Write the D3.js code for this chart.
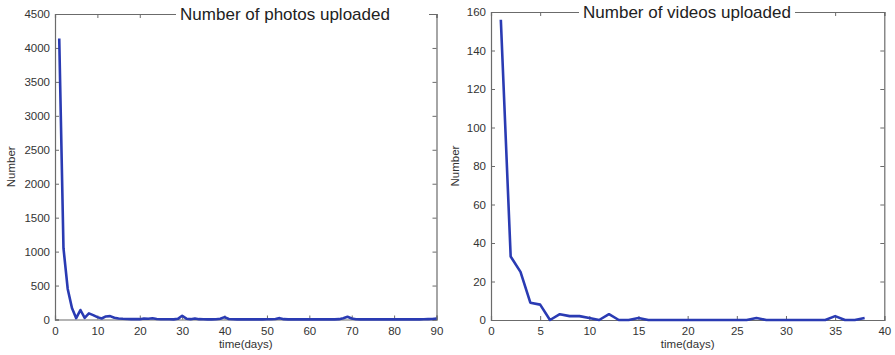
<!DOCTYPE html>
<html>
<head>
<meta charset="utf-8">
<script src="https://cdn.jsdelivr.net/npm/d3@7"></script>
<style>
  html, body { margin: 0; padding: 0; background: #fff; }
  svg { display: block; }
  text { font-family: "Liberation Sans", Arial, sans-serif; }
</style>
</head>
<body>
<svg id="chart" width="895" height="355"></svg>
<script>
// Daily upload counts
const photoDays = d3.range(1, 91);
const photoCounts = [
  4140, 1050, 450, 170, 20, 140, 25, 90, 65, 35,
  15, 45, 50, 25, 15, 10, 8, 5, 5, 5,
  15, 12, 18, 8, 4, 3, 3, 2, 10, 55,
  12, 5, 15, 5, 3, 2, 2, 3, 10, 35,
  8, 3, 2, 2, 2, 2, 2, 2, 2, 3,
  3, 8, 20, 5, 2, 2, 2, 2, 2, 2,
  2, 2, 2, 2, 2, 2, 5, 20, 40, 15,
  3, 2, 2, 2, 2, 2, 2, 2, 2, 2,
  2, 2, 2, 2, 2, 2, 3, 5, 8, 15
];

const videoDays = d3.range(1, 39);
const videoCounts = [
  156, 33, 25, 9, 8, 0, 3, 2, 2, 1,
  0, 3, 0, 0, 1, 0, 0, 0, 0, 0,
  0, 0, 0, 0, 0, 0, 1, 0, 0, 0,
  0, 0, 0, 0, 2, 0, 0, 1
];

const photoXTicks = d3.range(0, 91, 10);
const photoYTicks = d3.range(0, 4501, 500);
const videoXTicks = d3.range(0, 41, 5);
const videoYTicks = d3.range(0, 161, 20);

const svg = d3.select("#chart");
const lineColor = "#2a3bb3";
const boxColor = "#6b6b6b";
const textColor = "#333";

function panel(opts) {
  const { left, right, top, bottom, xDomain, yDomain, xTicks, yTicks,
          xs, ys, title, titleX, titleBg, yLabelX } = opts;
  const x = d3.scaleLinear().domain(xDomain).range([left, right]);
  const y = d3.scaleLinear().domain(yDomain).range([bottom, top]);
  const g = svg.append("g");
  const tickLen = 4;

  // bottom axis with inward ticks
  const bx = g.append("g").attr("transform", `translate(0,${bottom})`)
    .call(d3.axisBottom(x).tickValues(xTicks).tickSize(-tickLen).tickPadding(7).tickFormat(d3.format("d")));
  // top mirror ticks
  const tx = g.append("g").attr("transform", `translate(0,${top})`)
    .call(d3.axisTop(x).tickValues(xTicks).tickSize(-tickLen).tickFormat(""));
  // left axis
  const ly = g.append("g").attr("transform", `translate(${left},0)`)
    .call(d3.axisLeft(y).tickValues(yTicks).tickSize(-tickLen).tickPadding(5).tickFormat(d3.format("d")));
  // right mirror ticks
  const ry = g.append("g").attr("transform", `translate(${right},0)`)
    .call(d3.axisRight(y).tickValues(yTicks).tickSize(-tickLen).tickFormat(""));

  [bx, tx, ly, ry].forEach(a => {
    a.select(".domain").attr("stroke", boxColor).attr("stroke-width", 1.2);
    a.selectAll(".tick line").attr("stroke", boxColor).attr("stroke-width", 1);
    a.selectAll(".tick text").attr("fill", textColor)
      .style("font-size", "11.5px");
  });

  // data line
  const line = d3.line().x((d, i) => x(xs[i])).y(d => y(d));
  g.append("path").datum(ys)
    .attr("fill", "none")
    .attr("stroke", lineColor)
    .attr("stroke-width", 2.6)
    .attr("stroke-linejoin", "round")
    .attr("d", line);

  // title sits on the top border with a white backing
  g.append("rect")
    .attr("x", titleBg[0]).attr("y", top - 10)
    .attr("width", titleBg[1] - titleBg[0]).attr("height", 20)
    .attr("fill", "#fff");
  g.append("text")
    .attr("x", titleX).attr("y", top + 6)
    .attr("text-anchor", "middle")
    .attr("fill", "#222")
    .style("font-size", "17px")
    .text(title);

  // axis labels
  g.append("text")
    .attr("x", (left + right) / 2).attr("y", 348)
    .attr("text-anchor", "middle")
    .attr("fill", textColor)
    .style("font-size", "11.5px")
    .text("time(days)");
  g.append("text")
    .attr("transform", `translate(${yLabelX},${(top + bottom) / 2}) rotate(-90)`)
    .attr("text-anchor", "middle")
    .attr("fill", textColor)
    .style("font-size", "11.5px")
    .text("Number");
}

panel({
  left: 55, right: 436.5, top: 14, bottom: 319.5,
  xDomain: [0, 90], yDomain: [0, 4500],
  xTicks: photoXTicks, yTicks: photoYTicks,
  xs: photoDays, ys: photoCounts,
  title: "Number of photos uploaded", titleX: 285, titleBg: [176, 429],
  yLabelX: 15
});

panel({
  left: 491, right: 884.3, top: 12, bottom: 320,
  xDomain: [0, 40], yDomain: [0, 160],
  xTicks: videoXTicks, yTicks: videoYTicks,
  xs: videoDays, ys: videoCounts,
  title: "Number of videos uploaded", titleX: 687, titleBg: [579, 795],
  yLabelX: 459
});
</script>
</body>
</html>
